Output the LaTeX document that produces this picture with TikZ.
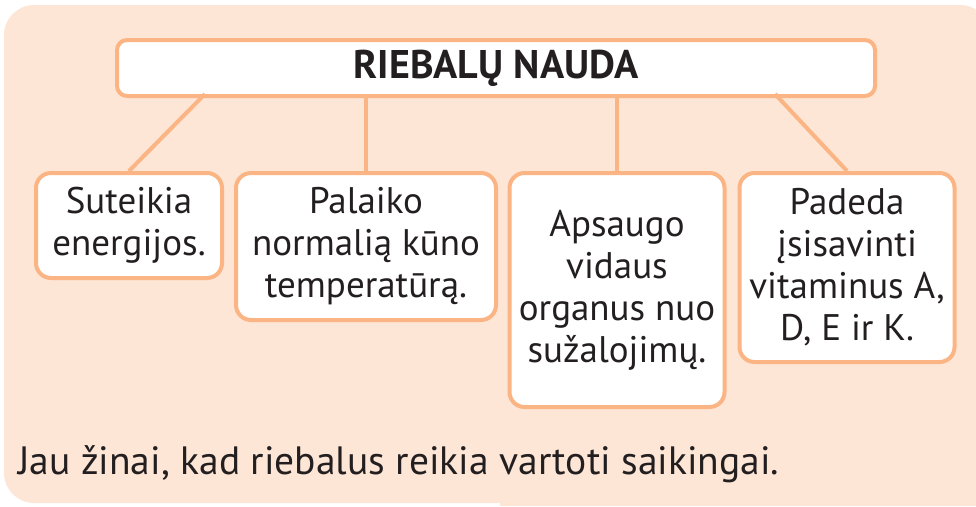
\documentclass[tikz,border=0pt]{standalone}
\usepackage{fontspec}
\setmainfont{PT Sans}
\usepackage{xcolor}
\usepackage{tikz}

\definecolor{panel}{HTML}{FDE6D6}
\definecolor{edge}{HTML}{FBB584}
\definecolor{ink}{HTML}{231F20}

\tikzset{
  fact/.style={draw=edge, line width=4pt, fill=white, rounded corners=15pt,
               align=center, anchor=north, inner sep=0pt, text=ink,
               font=\fontsize{37}{42}\selectfont},
  link/.style={draw=edge, line width=4pt}
}

\begin{document}
\begin{tikzpicture}[x=1pt,y=-1pt]
			\useasboundingbox (0,0) rectangle (976,506);
			% PANEL
			\fill[panel, rounded corners=30pt] (4,5) rectangle (990,503);
			\fill[panel] (500,300) rectangle (976,506);

			% TITLE
			\node[fact, minimum width=758pt, minimum height=56pt, rounded corners=10pt,
			      font=\fontsize{40}{44}\selectfont\bfseries] (title) at (496,38) {RIEBALŲ NAUDA};
			\coordinate (t1) at (205,94);
			\coordinate (t2) at (366,94);
			\coordinate (t3) at (617,94);
			\coordinate (t4) at (775,94);

			% BOXES
			\node[fact, minimum width=186pt, minimum height=105pt] (energy) at (129,171) {Suteikia\\energijos.};
			\node[fact, minimum width=260pt, minimum height=147pt] (heat) at (366,171) {Palaiko\\normalią kūno\\temperatūrą.};
			\node[fact, minimum width=215pt, minimum height=234pt] (organs) at (617,171) {Apsaugo\\vidaus\\organus nuo\\sužalojimų.};
			\node[fact, minimum width=215pt, minimum height=189pt] (vitamins) at (847,171) {Padeda\\įsisavinti\\vitaminus A,\\D, E ir K.};

			\draw[link] (t1) -- (energy.north);
			\draw[link] (t2) -- (heat.north);
			\draw[link] (t3) -- (organs.north);
			\draw[link] (t4) -- (vitamins.north);

			% NOTE
			\node[anchor=base west, text=ink, font=\fontsize{39.5}{44}\selectfont, inner sep=0pt] (note) at (18,474)
			  {Jau žinai, kad riebalus reikia vartoti saikingai.};
		\end{tikzpicture}
\end{document}
